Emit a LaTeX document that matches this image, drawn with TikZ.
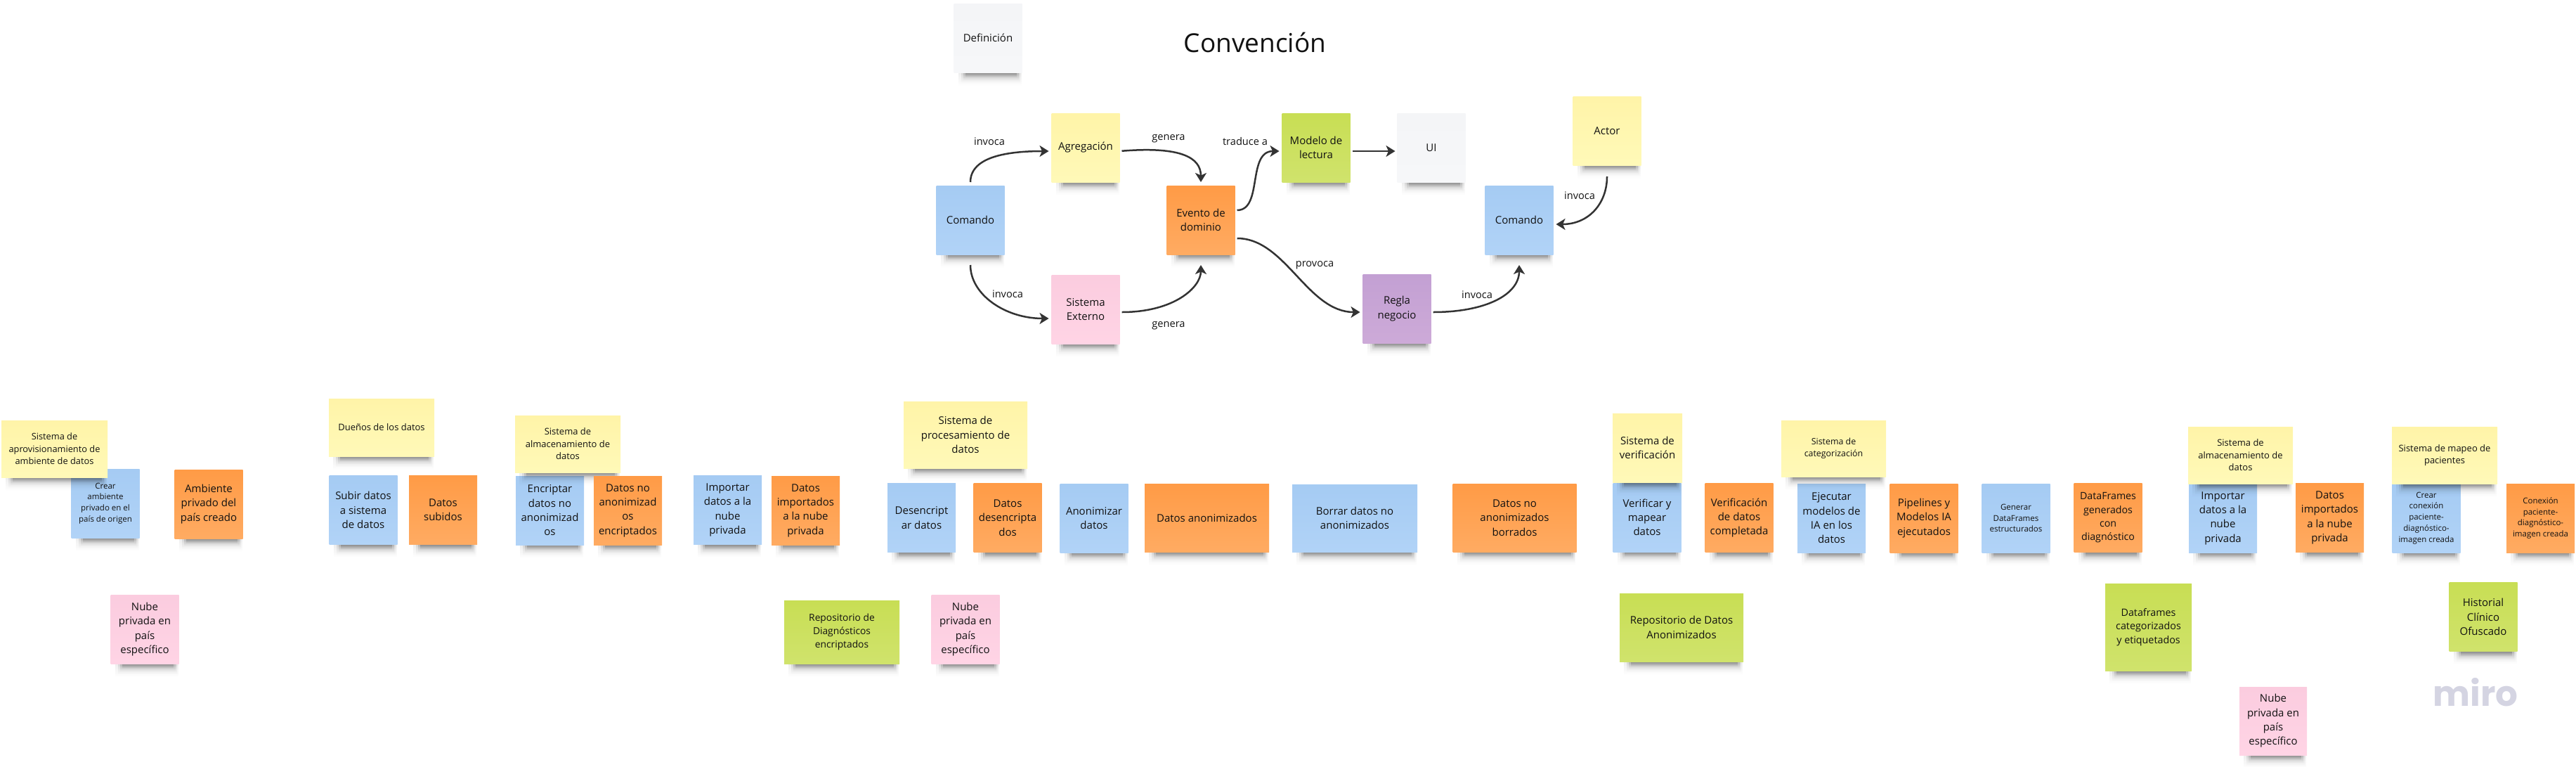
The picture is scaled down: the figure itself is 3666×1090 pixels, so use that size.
\documentclass[tikz,border=0pt]{standalone}
\usepackage{fontspec}
\setmainfont{Open Sans}
\newfontfamily\logofont{Poppins}
\usetikzlibrary{arrows.meta,fadings}

\definecolor{ink}{HTML}{111111}
\definecolor{linecol}{HTML}{333333}
\definecolor{mirocol}{HTML}{D4D4E2}
\definecolor{yellowtop}{HTML}{FFF4A8}\definecolor{yellowbot}{HTML}{FFF9B8}
\definecolor{bluetop}{HTML}{A5CBF3}\definecolor{bluebot}{HTML}{B1D3F7}
\definecolor{orangetop}{HTML}{FF9B46}\definecolor{orangebot}{HTML}{FFAB62}
\definecolor{pinktop}{HTML}{FBCCDF}\definecolor{pinkbot}{HTML}{FFD4E5}
\definecolor{greentop}{HTML}{C8DE54}\definecolor{greenbot}{HTML}{D0E36C}
\definecolor{greytop}{HTML}{F4F5F7}\definecolor{greybot}{HTML}{F6F7F9}
\definecolor{purpletop}{HTML}{C3A0D3}\definecolor{purplebot}{HTML}{CDAAD8}

\tikzfading[name=shadowfade, top color=transparent!0, bottom color=transparent!100]

\tikzset{
  fsize/.style 2 args={font=\fontsize{#1}{#2}\selectfont},
  dims/.style 2 args={minimum width=#1pt, minimum height=#2pt},
  note/.style={dims={97}{98}, inner sep=0pt, outer sep=0pt, align=center, text=ink, fsize={15}{20.3},
    append after command={\pgfextra{\let\lastnote\tikzlastnode
      \foreach \li/\ri/\hh/\oo in {6/1/19/.07, 10/3/15/.10, 13/5/11/.16, 16/8/7/.22}{
        \fill[black, path fading=shadowfade, fill opacity=\oo] ([xshift=\li pt]\lastnote.south west) rectangle ([xshift=-\ri pt,yshift=-\hh pt]\lastnote.south east);
      }}}},
  actornote/.style={note, top color=yellowtop, bottom color=yellowbot},
  cmdnote/.style={note, top color=bluetop, bottom color=bluebot},
  eventnote/.style={note, top color=orangetop, bottom color=orangebot},
  extnote/.style={note, top color=pinktop, bottom color=pinkbot},
  readnote/.style={note, top color=greentop, bottom color=greenbot},
  greynote/.style={note, top color=greytop, bottom color=greybot},
  rulenote/.style={note, top color=purpletop, bottom color=purplebot},
  lbl/.style={text=ink, inner sep=0pt, fsize={14.6}{20}},
  conn/.style={-{Stealth[length=13pt,width=16pt,inset=3.5pt]}, draw=linecol, line width=2.5pt}
}

\begin{document}
\begin{tikzpicture}[x=1pt,y=-1pt]
  \useasboundingbox (0,0) rectangle (3666,1090);

  % convention
  \node[lbl, fsize={37}{48}] (title) at (1786,61) {Convención};
  \node[greynote] (defin) at (1406,54) {Definición};
  \node[cmdnote] (cmdA) at (1381,313) {Comando};
  \node[actornote] (agg) at (1545,210) {Agregación};
  \node[eventnote] (evt) at (1709,313) {Evento de\\dominio};
  \node[readnote] (model) at (1873,210) {Modelo de\\lectura};
  \node[greynote] (ui) at (2037,210) {UI};
  \node[actornote] (actor) at (2287,186) {Actor};
  \node[cmdnote] (cmdB) at (2162,313) {Comando};
  \node[extnote] (ext) at (1545,440) {Sistema\\Externo};
  \node[rulenote] (rule) at (1988,439) {Regla\\negocio};

  \draw[conn, shorten <=5pt, shorten >=4pt] (cmdA.north) .. controls +(0,-42) and +(-60,0) .. ([yshift=-5pt]agg.west);
  \draw[conn, shorten <=3pt, shorten >=5pt] ([yshift=-5pt]agg.east) .. controls +(87,-7) and +(0,-40) .. (evt.north);
  \draw[conn, shorten <=15pt, shorten >=4pt] (cmdA.south) .. controls +(0,57) and +(-66,0) .. ([yshift=-13pt]ext.west);
  \draw[conn, shorten <=3pt, shorten >=15pt] ([yshift=-4pt]ext.east) .. controls +(77,0) and +(0,47) .. (evt.south);
  \draw[conn, shorten <=3pt, shorten >=4pt] ([yshift=14pt]evt.east) .. controls +(40,0) and +(-50,0) .. ([yshift=-5pt]model.west);
  \draw[conn, shorten <=3pt, shorten >=4pt] ([yshift=-26pt]evt.east) .. controls +(72,0) and +(-79,0) .. ([yshift=-5pt]rule.west);
  \draw[conn, shorten <=3pt, shorten >=3pt] ([yshift=-5pt]model.east) -- ([yshift=-5pt]ui.west);
  \draw[conn, shorten <=3pt, shorten >=15pt] ([yshift=-5pt]rule.east) .. controls +(78,0) and +(0,57) .. (cmdB.south);
  \draw[conn, shorten <=16pt, shorten >=4pt] (actor.south) .. controls +(0,55) and +(50,0) .. ([yshift=-6pt]cmdB.east);

  \node[lbl] (lblA) at (1408,201) {invoca};
  \node[lbl] (lblB) at (1663,197) {genera};
  \node[lbl] (lblC) at (1772,201) {traduce a};
  \node[lbl] (lblD) at (2248,278) {invoca};
  \node[lbl] (lblE) at (1434,418) {invoca};
  \node[lbl] (lblF) at (1663,463) {genera};
  \node[lbl] (lblG) at (1871,377) {provoca};
  \node[lbl] (lblH) at (2102,419) {invoca};

  % bottom row, left part
  \node[cmdnote, fsize={11.5}{15.8}] (crearAmb) at (150,716) {Crear\\ambiente\\privado en el\\país de origen};
  \node[actornote, dims={151}{81}, fsize={12.8}{17.5}] (sisAprov) at (77.5,638.5) {Sistema de\\aprovisionamiento de\\ambiente de datos};
  \node[eventnote] (ambPriv) at (297,717) {Ambiente\\privado del\\país creado};
  \node[extnote] (nubeA) at (206,895) {Nube\\privada en\\país\\específico};

  \node[actornote, dims={150}{82}, fsize={13}{17.5}] (duenos) at (543,608) {Dueños de los datos};
  \node[cmdnote] (subir) at (517,725.5) {Subir datos\\a sistema\\de datos};
  \node[eventnote] (subidos) at (630.5,725.5) {Datos\\subidos};
  \node[cmdnote] (encrip) at (782.5,726) {Encriptar\\datos no\\anonimizad\\os};
  \node[actornote, dims={150}{81}, fsize={13}{17.5}] (sisAlmA) at (808,631.5) {Sistema de\\almacenamiento de\\datos};
  \node[eventnote] (noAnon) at (893.5,726) {Datos no\\anonimizad\\os\\encriptados};
  \node[cmdnote] (importA) at (1035.5,725.5) {Importar\\datos a la\\nube\\privada};
  \node[eventnote] (importadosA) at (1146.5,726) {Datos\\importados\\a la nube\\privada};

  \node[readnote, dims={164}{90}, fsize={13.8}{19}] (repoDiag) at (1198,899) {Repositorio de\\Diagnósticos\\encriptados};
  \node[extnote] (nubeB) at (1374,895) {Nube\\privada en\\país\\específico};

  % bottom row, middle part
  \node[actornote, dims={176}{95}] (sisProc) at (1374,618.5) {Sistema de\\procesamiento de\\datos};
  \node[cmdnote] (desenc) at (1311.5,736.5) {Desencript\\ar datos};
  \node[eventnote] (desencDatos) at (1434,736.5) {Datos\\desencripta\\dos};
  \node[cmdnote] (anon) at (1557,737) {Anonimizar\\datos};
  \node[eventnote, dims={177}{97}] (anonDatos) at (1717.5,736.5) {Datos anonimizados};
  \node[cmdnote, dims={178}{96}] (borrar) at (1928,737) {Borrar datos no\\anonimizados};
  \node[eventnote, dims={176}{97}] (borrados) at (2155.5,736.5) {Datos no\\anonimizados\\borrados};
  \node[cmdnote] (verif) at (2344,736) {Verificar y\\mapear\\datos};
  \node[actornote, dims={99}{98}] (sisVerif) at (2344.5,637) {Sistema de\\verificación};
  \node[eventnote] (verifDatos) at (2475,736.5) {Verificación\\de datos\\completada};
  \node[cmdnote] (ejec) at (2606.5,737) {Ejecutar\\modelos de\\IA en los\\datos};
  \node[actornote, dims={149}{80}, fsize={12.4}{17}] (sisCateg) at (2609.5,638) {Sistema de\\categorización};
  \node[eventnote] (pipe) at (2738,737) {Pipelines y\\Modelos IA\\ejecutados};
  \node[readnote, dims={176}{97}] (repoAnon) at (2393,892.5) {Repositorio de Datos\\Anonimizados};

  % bottom row, right part
  \node[cmdnote, fsize={11.5}{15.8}] (generar) at (2869,737) {Generar\\DataFrames\\estructurados};
  \node[eventnote, fsize={14.2}{19.4}] (dfGen) at (3000,736.5) {DataFrames\\generados\\con\\diagnóstico};
  \node[cmdnote] (importB) at (3163.5,737) {Importar\\datos a la\\nube\\privada};
  \node[actornote, dims={149}{81}, fsize={13}{17.5}] (sisAlmB) at (3188.5,647.5) {Sistema de\\almacenamiento de\\datos};
  \node[eventnote] (importadosB) at (3315.5,736.5) {Datos\\importados\\a la nube\\privada};
  \node[cmdnote, fsize={11.5}{15.8}] (crearCon) at (3453,737) {Crear\\conexión\\paciente-\\diagnóstico-\\imagen creada};
  \node[actornote, dims={150}{81}, fsize={13}{17.3}] (sisMapeo) at (3479,647.5) {Sistema de mapeo de\\pacientes};
  \node[eventnote, fsize={11.5}{15.8}] (conexion) at (3615.5,737) {Conexión\\paciente-\\diagnóstico-\\imagen creada};
  \node[readnote, dims={123}{124}, fsize={14.3}{19.6}] (dfCat) at (3057.5,892) {Dataframes\\categorizados\\y etiquetados};
  \node[readnote] (historial) at (3534,877.5) {Historial\\Clínico\\Ofuscado};
  \node[extnote, dims={96}{97}] (nubeC) at (3235,1025.5) {Nube\\privada en\\país\\específico};

  \node[text=mirocol, inner sep=0pt, font=\fontsize{50}{55}\selectfont\logofont\bfseries] (miro) at (3523,985) {miro};
\end{tikzpicture}
\end{document}
